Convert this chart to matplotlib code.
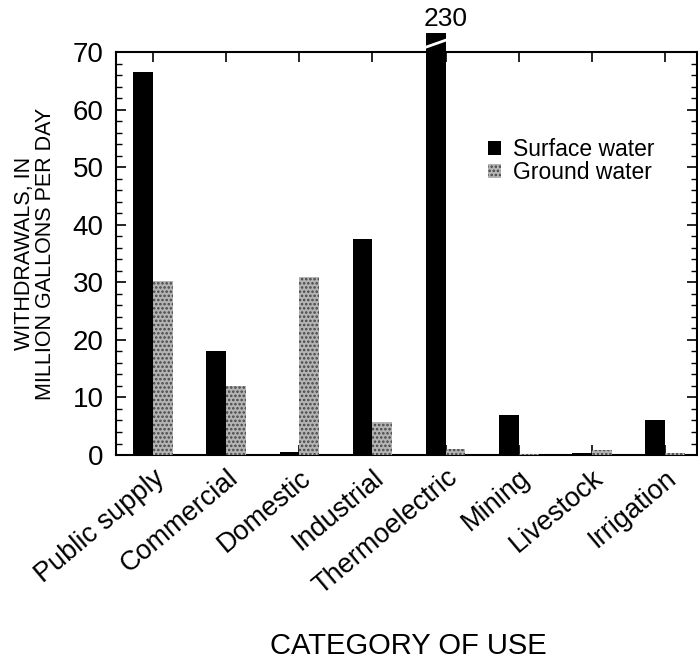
import numpy as np
import matplotlib
matplotlib.use("Agg")
from matplotlib import pyplot as plt

plt.rcParams['font.family'] = ['Liberation Sans', 'DejaVu Sans']
plt.rcParams['hatch.linewidth'] = 1.2

# withdrawals, million gallons per day
categories = ["Public supply", "Commercial", "Domestic", "Industrial",
              "Thermoelectric", "Mining", "Livestock", "Irrigation"]
surface = [66.5, 18.0, 0.5, 37.5, 230.0, 7.0, 0.3, 6.0]
ground = [30.2, 12.0, 31.0, 5.7, 1.0, 0.1, 0.8, 0.4]
yticks = [0, 10, 20, 30, 40, 50, 60, 70]

ymax = 70
cap = 73.3  # broken bar drawn up to here
x = np.arange(len(categories))
w = 0.27

fig = plt.figure(figsize=(6.98, 6.63), dpi=100)
ax = fig.add_axes([0.1662, 0.3137, 0.8318, 0.6078])

surf_shown = [min(v, cap) for v in surface]
bars = ax.bar(x - w / 2, surf_shown, w, color="black", label="Surface water",
              zorder=3)
for b in bars:
    b.set_clip_on(False)
ax.bar(x + w / 2, ground, w, facecolor="#b4b4b4", edgecolor="#444444",
       hatch="....", linewidth=0, label="Ground water", zorder=3)

# break mark on the bar that goes off the scale
for i, v in enumerate(surface):
    if v > ymax:
        ax.plot([x[i] - w - 0.01, x[i] + 0.01], [70.8, 72.1], color="white",
                lw=2, clip_on=False, zorder=4)
        ax.text(x[i], cap + 0.3, str(int(v)), ha="center", va="bottom",
                fontsize=19)

ax.set_xlim(-0.505, 7.43)
ax.set_ylim(0, ymax)
ax.set_yticks(yticks)
ax.set_yticks(np.arange(0, ymax + 1, 2), minor=True)
ax.set_xticks(x)
ax.set_xticklabels(categories, rotation=40, ha="right",
                   rotation_mode="anchor", fontsize=19.5)
ax.tick_params(axis="y", which="both", direction="in", right=True,
               labelsize=20, pad=9)
ax.tick_params(axis="y", which="major", length=7, width=1.2)
ax.tick_params(axis="y", which="minor", length=4, width=1)
ax.tick_params(axis="x", direction="in", top=True, length=7, width=1.2, pad=7)
for s in ax.spines.values():
    s.set_linewidth(1.5)

ax.set_ylabel("WITHDRAWALS, IN\nMILLION GALLONS PER DAY", fontsize=15.5,
              labelpad=12, linespacing=1.0)

ax.legend(loc="upper left", bbox_to_anchor=(0.625, 0.81), frameon=False,
          fontsize=16.5, handlelength=0.55, handleheight=0.55,
          handletextpad=0.55, labelspacing=0.0, borderaxespad=0)

fig.text(0.585, 0.004, "CATEGORY OF USE", ha="center", va="bottom",
         fontsize=21)

fig.savefig("out.png", dpi=100)
